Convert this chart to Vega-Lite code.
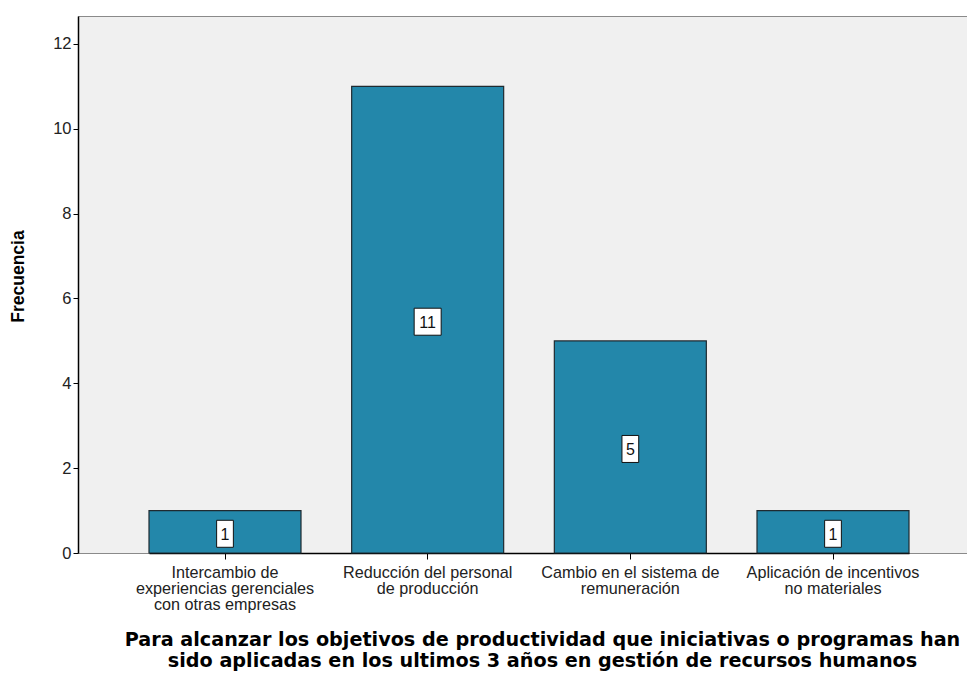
{
  "$schema": "https://vega.github.io/schema/vega-lite/v6.json",
  "autosize": "none",
  "padding": {"left": 78, "top": 16, "right": 0, "bottom": 122},
  "width": 889,
  "height": 537,
  "background": "#ffffff",
  "config": {
    "font": "Liberation Sans",
    "view": {"fill": "#f0f0f0", "stroke": "#8a8a8a", "strokeWidth": 1}
  },
  "data": {
    "values": [
      {"iniciativa": "Intercambio de\nexperiencias gerenciales\ncon otras empresas", "Frecuencia": 1},
      {"iniciativa": "Reducción del personal\nde producción", "Frecuencia": 11},
      {"iniciativa": "Cambio en el sistema de\nremuneración", "Frecuencia": 5},
      {"iniciativa": "Aplicación de incentivos\nno materiales", "Frecuencia": 1}
    ]
  },
  "encoding": {
    "x": {
      "field": "iniciativa",
      "type": "nominal",
      "sort": null,
      "scale": {"range": [71, 831], "paddingInner": 0.25, "paddingOuter": 0},
      "axis": {
        "title": [
          "Para alcanzar los objetivos de productividad que iniciativas o programas han",
          "sido aplicadas en los ultimos 3 años en gestión de recursos humanos"
        ],
        "titleFont": "DejaVu Sans",
        "titleFontWeight": "bold",
        "titleFontSize": 19.2,
        "titleColor": "#000000",
        "titlePadding": 18,
        "titleLineHeight": 21,
        "titleX": 464,
        "labelExpr": "split(datum.label, '\\n')",
        "labelAngle": 0,
        "labelFont": "Liberation Sans",
        "labelFontSize": 16.2,
        "labelColor": "#222222",
        "labelLineHeight": 16.2,
        "labelPadding": 5,
        "labelLimit": 300,
        "tickColor": "#000000",
        "tickSize": 6,
        "domainColor": "#000000",
        "domainWidth": 1.5
      }
    },
    "y": {
      "field": "Frecuencia",
      "type": "quantitative",
      "scale": {"domain": [0, 12.66], "nice": false},
      "axis": {
        "values": [0, 2, 4, 6, 8, 10, 12],
        "grid": false,
        "title": "Frecuencia",
        "titleFont": "Liberation Sans",
        "titleFontWeight": "bold",
        "titleFontSize": 17.5,
        "titleColor": "#000000",
        "titlePadding": 25,
        "titleY": 260,
        "labelFont": "Liberation Sans",
        "labelFontSize": 16.5,
        "labelColor": "#222222",
        "labelPadding": 2,
        "tickColor": "#000000",
        "tickSize": 5,
        "domainColor": "#000000",
        "domainWidth": 1.5
      }
    }
  },
  "layer": [
    {
      "mark": {"type": "bar", "fill": "#2387aa", "stroke": "#1f2a30", "strokeWidth": 1.2}
    },
    {
      "transform": [{"calculate": "datum.Frecuencia / 2", "as": "mitad"}],
      "encoding": {
        "y": {"field": "mitad", "type": "quantitative"}
      },
      "layer": [
        {
          "mark": {"type": "point", "filled": true, "fill": "#ffffff", "stroke": "#111111", "strokeWidth": 1, "opacity": 1, "size": 729, "yOffset": 2},
          "encoding": {
            "shape": {
              "condition": {"test": "datum.Frecuencia >= 10", "value": "M-1,-1H1V1H-1Z"},
              "value": "M-0.62,-1H0.62V1H-0.62Z"
            }
          }
        },
        {
          "mark": {"type": "text", "font": "Liberation Sans", "fontSize": 16, "color": "#111111", "align": "center", "baseline": "middle", "yOffset": 3},
          "encoding": {
            "text": {"field": "Frecuencia", "type": "quantitative"}
          }
        }
      ]
    }
  ]
}
